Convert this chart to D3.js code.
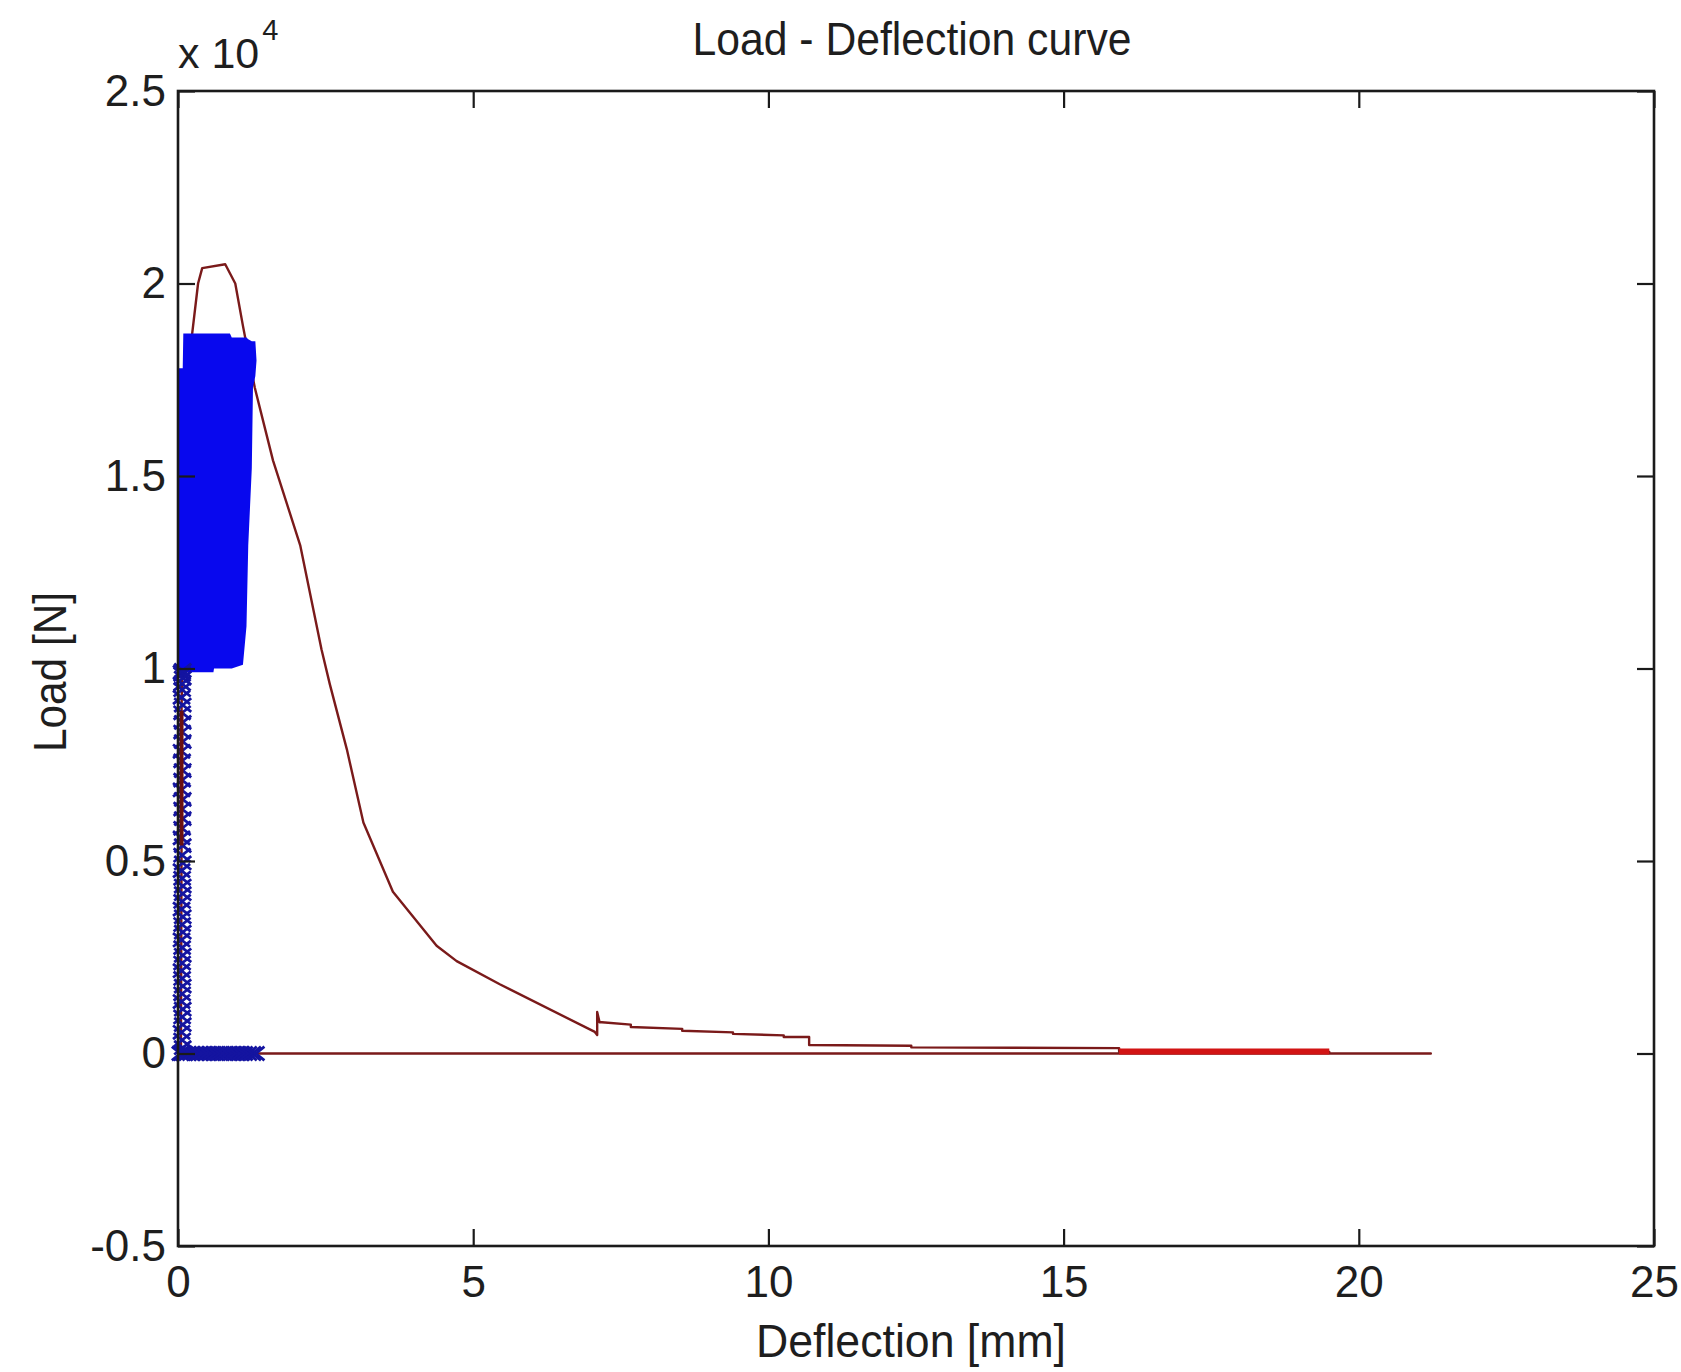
<!DOCTYPE html>
<html><head><meta charset="utf-8">
<script src="https://cdn.jsdelivr.net/npm/d3@7"></script>
<style>body{margin:0;background:#fff}svg{display:block}</style>
</head><body><svg id="c" width="1681" height="1372"></svg>
<script>
// ---- data (deflection in mm, load in units of 1e4 N) ----
const xTicks = [0, 5, 10, 15, 20, 25];
const xTickLabels = ["0", "5", "10", "15", "20", "25"];
const yTicks = [-0.5, 0, 0.5, 1, 1.5, 2, 2.5];
const yTickLabels = ["-0.5", "0", "0.5", "1", "1.5", "2", "2.5"];

// static test (red)
const redX = [0.05, 0.06, 0.06, 0.07, 0.10, 0.16, 0.24, 0.34, 0.41, 0.80, 0.97, 1.10, 1.30, 1.61, 2.07, 2.43, 2.57, 2.86, 3.14, 3.64, 4.38, 4.72, 5.45, 7.06, 7.10, 7.10, 7.14, 7.18, 7.67, 7.67, 8.54, 8.54, 9.40, 9.40, 10.26, 10.26, 10.69, 10.69, 12.42, 12.42, 15.94, 15.94, 19.50, 19.50, 21.22, 0.05];
const redY = [0.00, 0.54, 0.89, 1.00, 1.30, 1.75, 1.87, 2.00, 2.04, 2.05, 2.00, 1.89, 1.73, 1.54, 1.32, 1.05, 0.96, 0.79, 0.60, 0.42, 0.28, 0.24, 0.18, 0.056, 0.048, 0.108, 0.081, 0.081, 0.075, 0.069, 0.064, 0.059, 0.055, 0.051, 0.047, 0.043, 0.043, 0.022, 0.020, 0.016, 0.014, 0.006, 0.004, 0.000, 0.000, 0.000];
// overlapping unloading passes (bright red band)
const bandRedX = [15.94, 19.50];
const bandRedY = [0.005, 0.005];

// cyclic loading (blue): envelope of the dense oscillation
const cycX    = [0.00, 0.08, 0.09, 0.60, 0.61, 0.88, 0.91, 1.10, 1.16, 1.19, 1.25, 1.27, 1.31, 1.33];
const cycLow  = [0.99, 0.99, 0.99, 0.99, 1.00, 1.00, 1.00, 1.01, 1.11, 1.32, 1.52, 1.73, 1.76, 1.80];
const cycHigh = [1.78, 1.78, 1.87, 1.87, 1.87, 1.87, 1.86, 1.86, 1.86, 1.855, 1.85, 1.85, 1.85, 1.80];

// blue 'x' markers: loading column and zero-load row
const colX = [0.07, 0.08, 0.07, 0.06, 0.08, 0.07, 0.08, 0.06, 0.07, 0.08, 0.07, 0.06, 0.07, 0.08, 0.07, 0.06, 0.08, 0.07, 0.08, 0.06, 0.07, 0.08, 0.08, 0.07, 0.06, 0.08, 0.07, 0.08, 0.06, 0.07, 0.08, 0.07, 0.08, 0.06, 0.07, 0.08, 0.07, 0.06, 0.08, 0.07, 0.08, 0.07, 0.08, 0.06, 0.07, 0.07, 0.08, 0.07, 0.06, 0.08];
const colY = [0.00, 0.015, 0.035, 0.055, 0.075, 0.095, 0.115, 0.135, 0.155, 0.175, 0.195, 0.215, 0.235, 0.255, 0.275, 0.295, 0.315, 0.335, 0.355, 0.375, 0.395, 0.415, 0.435, 0.455, 0.475, 0.495, 0.515, 0.54, 0.56, 0.585, 0.61, 0.635, 0.66, 0.685, 0.71, 0.735, 0.76, 0.785, 0.81, 0.835, 0.86, 0.885, 0.905, 0.925, 0.945, 0.96, 0.975, 0.985, 0.99, 0.995];
const rowX = [0.04, 0.10, 0.16, 0.22, 0.29, 0.36, 0.42, 0.49, 0.56, 0.63, 0.70, 0.77, 0.84, 0.91, 0.98, 1.05, 1.12, 1.19, 1.26, 1.32];
const rowY = [0, 0, 0, 0, 0, 0, 0, 0, 0, 0, 0, 0, 0, 0, 0, 0, 0, 0, 0, 0];

// ---- layout ----
const L = 178, R = 1654, T = 91, B = 1246;
const svg = d3.select("#c");
const x = d3.scaleLinear().domain([0, 25]).range([L, R]);
const y = d3.scaleLinear().domain([-0.5, 2.5]).range([B, T]);
const FONT = "'Liberation Sans', Arial, Helvetica, sans-serif";
const TXT = "#1e1e1e";

svg.append("rect").attr("width", 1681).attr("height", 1372).attr("fill", "#fff");

svg.append("defs").append("clipPath").attr("id", "pc")
  .append("rect").attr("x", L - 20).attr("y", T).attr("width", R - L + 20).attr("height", B - T + 12);

const plot = svg.append("g").attr("clip-path", "url(#pc)");

const line = d3.line().x(d => x(d[0])).y(d => y(d[1]));
const redPts = redX.map((v, i) => [v, redY[i]]);

// red static curve
plot.append("path").attr("d", line(redPts))
  .attr("fill", "none").attr("stroke", "#7a1a1a").attr("stroke-width", 2.4)
  .attr("stroke-linejoin", "round");
plot.append("path").attr("d", line(bandRedX.map((v, i) => [v, bandRedY[i]])))
  .attr("fill", "none").attr("stroke", "#d21414").attr("stroke-width", 6);

// blue cyclic band
const area = d3.area().x(d => x(d.x)).y0(d => y(d.lo)).y1(d => y(d.hi));
plot.append("path")
  .attr("d", area(cycX.map((v, i) => ({x: v, lo: cycLow[i], hi: cycHigh[i]}))))
  .attr("fill", "#0808ee");

// blue x markers
const s = 8.5;
const cross = `M${-s},${-s * 0.8}L${s},${s * 0.8}M${-s},${s * 0.8}L${s},${-s * 0.8}`;
const markers = colX.map((v, i) => [v, colY[i]]).concat(rowX.map((v, i) => [v, rowY[i]]));
plot.selectAll("path.mk").data(markers).join("path").attr("class", "mk")
  .attr("d", cross).attr("transform", d => `translate(${x(d[0])},${y(d[1])})`)
  .attr("fill", "none").attr("stroke", "#1414a0").attr("stroke-width", 2.8);

// red overlay on upper column (drawn on top)
const over = redPts.filter(d => d[0] < 0.08 && d[1] >= 0.54 && d[1] <= 0.89);
plot.append("path").attr("d", line(over))
  .attr("fill", "none").attr("stroke", "#6a1010").attr("stroke-width", 4);

// ---- axes ----
const tk = 17;
const axB = svg.append("g").attr("transform", `translate(0,${B})`)
  .call(d3.axisBottom(x).tickValues(xTicks).tickFormat((d, i) => xTickLabels[i]).tickSize(-tk).tickSizeOuter(0).tickPadding(20));
const axT = svg.append("g").attr("transform", `translate(0,${T})`)
  .call(d3.axisTop(x).tickValues(xTicks).tickFormat("").tickSize(-tk).tickSizeOuter(0));
const axL = svg.append("g").attr("transform", `translate(${L},0)`)
  .call(d3.axisLeft(y).tickValues(yTicks).tickFormat((d, i) => yTickLabels[i]).tickSize(-tk).tickSizeOuter(0).tickPadding(12));
const axR = svg.append("g").attr("transform", `translate(${R},0)`)
  .call(d3.axisRight(y).tickValues(yTicks).tickFormat("").tickSize(-tk).tickSizeOuter(0));

[axB, axT, axL, axR].forEach(g => {
  g.select(".domain").remove();
  g.selectAll(".tick line").attr("stroke", "#1a1a1a").attr("stroke-width", 2.2);
  g.selectAll(".tick text").attr("fill", TXT).attr("font-family", FONT).attr("font-size", 44);
});

svg.append("rect").attr("x", L).attr("y", T).attr("width", R - L).attr("height", B - T)
  .attr("fill", "none").attr("stroke", "#1a1a1a").attr("stroke-width", 2.6);

// ---- texts ----
svg.append("text").attr("x", 912).attr("y", 55).attr("text-anchor", "middle")
  .attr("font-family", FONT).attr("font-size", 47).attr("fill", TXT)
  .attr("textLength", 439).attr("lengthAdjust", "spacingAndGlyphs")
  .text("Load - Deflection curve");

svg.append("text").attr("x", 911).attr("y", 1357).attr("text-anchor", "middle")
  .attr("font-family", FONT).attr("font-size", 47).attr("fill", TXT)
  .attr("textLength", 310).attr("lengthAdjust", "spacingAndGlyphs")
  .text("Deflection [mm]");

svg.append("text").attr("transform", "translate(66,672) rotate(-90)").attr("text-anchor", "middle")
  .attr("font-family", FONT).attr("font-size", 47).attr("fill", TXT)
  .attr("textLength", 160).attr("lengthAdjust", "spacingAndGlyphs")
  .text("Load [N]");

const ex = svg.append("text").attr("x", 178).attr("y", 68)
  .attr("font-family", FONT).attr("font-size", 43).attr("fill", TXT);
ex.append("tspan").text("x 10");
ex.append("tspan").attr("font-size", 29).attr("dx", 3).attr("dy", -28).text("4");
</script>
</body></html>
